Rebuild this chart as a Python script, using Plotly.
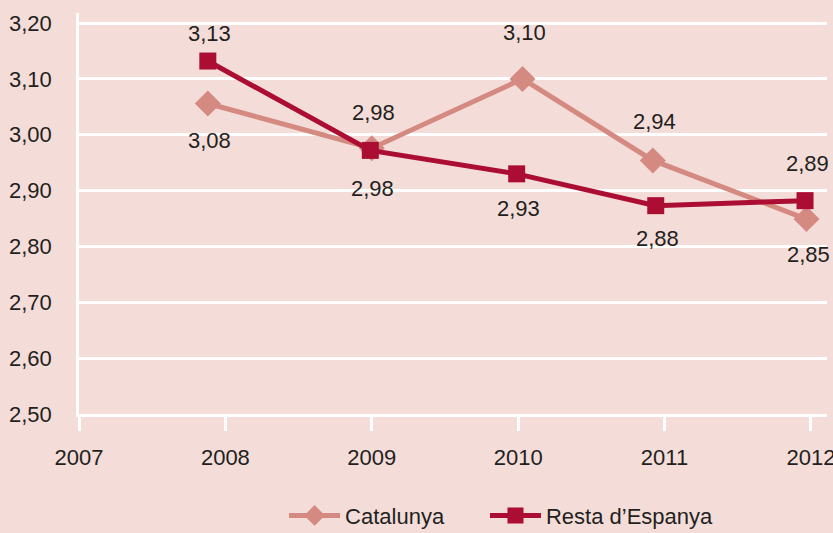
import plotly.graph_objects as go

# ---- data ----
series_names = ["Catalunya", "Resta d\u2019Espanya"]
x_catalunya = [2007.88, 2009.00, 2010.03, 2010.92, 2011.97]
y_catalunya = [3.056, 2.976, 3.100, 2.954, 2.849]
lbl_catalunya = ["3,08", "2,98", "3,10", "2,94", "2,85"]
x_resta = [2007.88, 2008.99, 2009.99, 2010.94, 2011.96]
y_resta = [3.132, 2.972, 2.930, 2.873, 2.882]
lbl_resta = ["3,13", "2,98", "2,93", "2,88", "2,89"]
x_ticks = [2007, 2008, 2009, 2010, 2011, 2012]
y_ticks = [2.5, 2.6, 2.7, 2.8, 2.9, 3.0, 3.1, 3.2]
y_tick_text = ["2,50", "2,60", "2,70", "2,80", "2,90", "3,00", "3,10", "3,20"]

# ---- style ----
BG = "#f4ddd9"
C_CAT = "#d48a81"
C_RES = "#ab0d33"
TXT = "#231f20"
FONT = "Liberation Sans Narrow, Liberation Sans, Arial, sans-serif"
FS = 22
shift_cat = [-37, 36, 46, 39, -35]
shift_res = [28, -38, -35, -33, 37]

fig = go.Figure()
fig.add_trace(go.Scatter(
    x=x_catalunya, y=y_catalunya, mode="lines+markers", name=series_names[0],
    line=dict(color=C_CAT, width=5),
    marker=dict(symbol="diamond", size=20, color=C_CAT),
    legend="legend",
))
fig.add_trace(go.Scatter(
    x=x_resta, y=y_resta, mode="lines+markers", name=series_names[1],
    line=dict(color=C_RES, width=5),
    marker=dict(symbol="square", size=17, color=C_RES),
    legend="legend2",
))

annotations = []
for xs, ys, ls, sh in [(x_catalunya, y_catalunya, lbl_catalunya, shift_cat),
                       (x_resta, y_resta, lbl_resta, shift_res)]:
    for x, y, l, s in zip(xs, ys, ls, sh):
        annotations.append(dict(x=x, y=y, xref="x", yref="y", text=l, showarrow=False,
                                yshift=s, xshift=2, font=dict(family=FONT, size=FS, color=TXT)))

leg_common = dict(orientation="h", xref="container", xanchor="left",
                  yref="container", y=0.072, yanchor="top",
                  font=dict(family=FONT, size=FS, color=TXT), bgcolor="rgba(0,0,0,0)",
                  itemwidth=51)

fig.update_layout(
    width=833, height=533,
    paper_bgcolor=BG, plot_bgcolor=BG,
    margin=dict(l=79, r=6, t=13, b=119),
    font=dict(family=FONT, size=FS, color=TXT),
    showlegend=True,
    legend=dict(x=0.341, **leg_common),
    legend2=dict(x=0.5822, **leg_common),
    annotations=annotations,
    xaxis=dict(range=[2007, 2012.11], tickvals=x_ticks, ticktext=[str(v) for v in x_ticks],
               showgrid=False, zeroline=False, showline=True, linecolor="white", linewidth=2.5,
               ticks="outside", ticklen=14, tickwidth=2.5, tickcolor="white",
               ticklabelstandoff=8, automargin=False, ticklabeloverflow="allow"),
    yaxis=dict(range=[2.5, 3.218], tickvals=y_ticks, ticktext=y_tick_text,
               showgrid=True, gridcolor="white", gridwidth=2.5, zeroline=False,
               showline=True, linecolor="white", linewidth=2.5, ticks="",
               ticklabelstandoff=20, automargin=False, ticklabeloverflow="allow"),
)

fig.write_html("out.html", config={"displayModeBar": False},
               post_script="document.body.style.margin='0';document.body.style.overflow='hidden';")
